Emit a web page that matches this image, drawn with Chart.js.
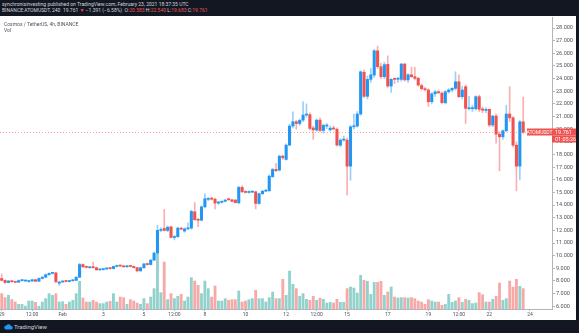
<!DOCTYPE html>
<html>
<head>
<meta charset="utf-8">
<script src="https://cdn.jsdelivr.net/npm/chart.js@4.4.0/dist/chart.umd.min.js"></script>
<style>
html, body { margin: 0; padding: 0; background: #131722; }
#wrap { position: relative; width: 579px; height: 333px; overflow: hidden; background: #131722; font-family: Roboto, "Noto Sans", sans-serif; }
#head { position: absolute; left: 2px; top: 1px; color: #d1d4dc; font-size: 5px; line-height: 6px; white-space: nowrap; }
#head .r { color: #ef5350; }
#panel { position: absolute; left: 0; top: 16px; width: 576px; height: 304px; background: #fff; }
#title { position: absolute; left: 4px; top: 21px; color: #50535e; font-size: 5px; line-height: 6px; white-space: nowrap; }
#foot { position: absolute; left: 4px; top: 323px; color: #d1d4dc; font-size: 6px; line-height: 8px; white-space: nowrap; }
#foot svg { vertical-align: middle; margin-right: 1px; }
</style>
</head>
<body>
<div id="wrap">
  <div id="head">
    <div>synchronisinvesting published on TradingView.com, February 23, 2021 18:37:35 UTC</div>
    <div>BINANCE:ATOMUSDT, 240&nbsp; 19.761 <span class="r">▼</span> −1.391 (−6.58%)&nbsp; O:<span class="r">20.583</span> H:<span class="r">22.540</span> L:<span class="r">19.683</span> C:<span class="r">19.761</span></div>
  </div>
  <div id="panel"><canvas id="chart" width="576" height="304"></canvas></div>
  <div id="title"><div>Cosmos / TetherUS, 4h, BINANCE</div><div>Vol</div></div>
  <div id="foot"><svg width="9" height="6" viewBox="0 0 18 12"><path d="M4 11 A4 4 0 0 1 5 3 A5 5 0 0 1 14 4 A3.5 3.5 0 0 1 14 11 Z" fill="#2196f3"/></svg>TradingView</div>
</div>
<script>
// 4h candles, BINANCE:ATOMUSDT, from 29 Jan 2021 00:00 UTC
const opens = [
  8.20, 8.05, 7.88, 8.00, 7.94, 7.90, 8.03, 8.00, 7.96, 8.00,
  8.10, 7.98, 8.20, 8.30, 8.50, 8.60, 8.64, 7.82, 7.92, 8.02,
  7.96, 8.02, 8.05, 8.30, 9.30, 9.12, 9.05, 9.10, 9.05, 8.88,
  8.90, 8.95, 9.02, 8.98, 9.15, 9.22, 9.18, 9.12, 9.20, 9.15,
  9.05, 8.80, 9.05, 9.35, 9.30, 9.65, 10.20, 12.00, 12.15, 12.00,
  12.28, 11.44, 11.50, 12.18, 11.95, 12.12, 12.18, 13.47, 12.85, 12.81,
  13.86, 14.45, 14.55, 14.47, 14.16, 14.22, 14.30, 14.45, 14.42, 14.40,
  14.18, 15.40, 15.05, 15.00, 15.02, 15.05, 14.13, 14.90, 15.10, 15.13,
  16.24, 16.82, 16.77, 17.87, 17.61, 18.74, 20.25, 20.59, 20.45, 20.72,
  21.12, 21.15, 20.10, 19.93, 20.72, 19.90, 20.25, 19.95, 20.10, 20.00,
  18.74, 19.14, 19.14, 17.08, 20.19, 20.25, 21.20, 24.50, 22.60, 23.94,
  24.28, 26.20, 24.94, 24.15, 25.13, 23.41, 23.96, 23.95, 23.94, 25.15,
  23.90, 24.30, 24.15, 24.02, 23.45, 23.20, 23.10, 22.17, 22.80, 22.96,
  22.85, 22.09, 22.96, 23.10, 23.23, 23.75, 22.57, 23.36, 21.62, 21.62,
  21.62, 22.57, 21.60, 21.48, 21.57, 20.33, 21.04, 19.61, 19.40, 19.88,
  21.20, 20.90, 18.74, 17.08, 20.583
];
const highs = [
  8.55, 8.10, 8.05, 8.05, 7.98, 8.08, 8.10, 8.08, 8.02, 8.15,
  8.14, 8.25, 8.35, 8.55, 8.65, 8.70, 8.68, 7.98, 8.02, 8.06,
  8.05, 8.10, 8.35, 9.40, 9.35, 9.18, 9.12, 9.50, 9.10, 8.95,
  8.98, 9.05, 9.06, 9.18, 9.26, 9.28, 9.22, 9.24, 9.24, 9.18,
  9.08, 9.08, 9.40, 9.42, 9.70, 10.30, 12.40, 12.20, 13.66, 12.35,
  12.35, 11.60, 12.25, 12.25, 12.20, 12.60, 13.60, 14.20, 12.95, 13.95,
  14.90, 14.60, 14.62, 14.55, 14.30, 14.35, 14.45, 14.55, 14.48, 14.45,
  15.50, 15.55, 15.15, 15.12, 15.15, 15.10, 14.95, 15.15, 15.25, 16.40,
  16.90, 17.30, 17.95, 17.95, 18.85, 20.40, 21.38, 20.70, 20.80, 22.17,
  22.00, 21.30, 20.25, 20.80, 20.90, 20.40, 20.45, 20.25, 20.25, 20.10,
  19.25, 19.45, 19.30, 20.30, 21.20, 21.40, 24.60, 24.70, 24.20, 24.80,
  26.30, 26.58, 25.20, 25.30, 25.80, 24.00, 24.05, 24.10, 25.20, 25.20,
  24.40, 24.90, 24.90, 24.10, 23.60, 23.30, 23.20, 22.90, 23.05, 23.10,
  22.95, 23.05, 23.20, 23.30, 24.54, 24.30, 23.40, 23.50, 22.60, 21.90,
  22.65, 22.70, 21.75, 21.70, 21.60, 21.10, 21.20, 19.80, 19.95, 21.90,
  23.36, 21.00, 19.00, 20.70, 22.54
];
const lows = [
  8.00, 7.80, 7.85, 7.90, 7.85, 7.88, 7.98, 7.95, 7.90, 7.97,
  7.95, 7.95, 8.15, 8.25, 8.45, 8.55, 7.85, 7.65, 7.88, 7.92,
  7.92, 7.98, 8.02, 8.25, 9.05, 9.02, 9.00, 9.02, 8.85, 8.84,
  8.86, 8.92, 8.94, 8.95, 9.10, 9.14, 9.08, 9.08, 9.12, 9.02,
  8.72, 8.76, 9.00, 9.25, 9.26, 9.60, 10.15, 11.90, 11.95, 11.90,
  11.40, 11.25, 11.45, 12.05, 11.85, 12.05, 12.10, 12.80, 12.30, 12.75,
  13.80, 14.35, 14.40, 13.70, 14.05, 14.15, 14.25, 14.38, 14.25, 14.15,
  14.10, 15.00, 14.95, 14.95, 14.98, 13.70, 14.05, 14.85, 15.05, 15.10,
  16.20, 16.65, 16.70, 17.60, 17.55, 18.70, 20.10, 20.00, 20.30, 20.60,
  20.95, 19.95, 19.20, 19.85, 19.80, 19.70, 20.05, 19.85, 19.95, 18.65,
  18.60, 19.05, 14.80, 15.97, 20.00, 20.15, 21.10, 22.50, 22.40, 23.70,
  24.10, 24.80, 24.00, 24.00, 23.30, 22.90, 23.60, 23.70, 23.80, 23.80,
  23.70, 24.10, 23.90, 23.40, 23.10, 23.00, 21.80, 22.00, 22.60, 22.80,
  22.00, 22.00, 22.85, 22.95, 23.10, 22.50, 22.40, 20.46, 21.50, 21.40,
  21.50, 21.40, 21.30, 21.30, 20.20, 20.20, 18.90, 16.70, 19.20, 19.80,
  20.60, 18.60, 15.13, 16.00, 19.683
];
const closes = [
  8.05, 7.88, 8.00, 7.94, 7.90, 8.03, 8.06, 8.04, 8.00, 8.10,
  7.98, 8.20, 8.30, 8.50, 8.60, 8.64, 7.95, 7.92, 8.00, 7.96,
  8.02, 8.05, 8.30, 9.30, 9.12, 9.08, 9.10, 9.05, 8.88, 8.92,
  8.95, 9.02, 8.98, 9.15, 9.22, 9.18, 9.12, 9.20, 9.15, 9.05,
  8.80, 9.05, 9.35, 9.30, 9.65, 10.20, 12.00, 12.08, 12.00, 12.25,
  11.44, 11.50, 12.18, 12.10, 12.12, 12.18, 13.50, 12.85, 12.80, 13.86,
  14.50, 14.52, 14.47, 14.16, 14.25, 14.30, 14.40, 14.42, 14.30, 14.20,
  15.40, 15.05, 15.00, 15.05, 15.08, 14.13, 14.90, 15.10, 15.15, 16.29,
  16.82, 16.72, 17.87, 17.75, 18.74, 20.25, 20.59, 20.45, 20.70, 21.12,
  21.20, 20.06, 19.95, 20.72, 19.90, 20.30, 20.30, 20.08, 20.02, 18.74,
  19.14, 19.20, 17.08, 20.19, 20.25, 21.20, 24.54, 22.60, 23.94, 24.30,
  26.20, 24.94, 24.15, 25.10, 23.41, 23.94, 23.94, 23.99, 25.15, 23.90,
  24.30, 24.15, 24.02, 23.49, 23.20, 23.12, 22.17, 22.80, 22.96, 22.88,
  22.10, 22.96, 23.10, 23.23, 23.75, 22.57, 23.10, 21.65, 21.66, 21.66,
  22.57, 21.57, 21.50, 21.55, 20.33, 21.04, 19.61, 19.40, 19.88, 21.20,
  20.90, 18.74, 17.08, 20.58, 19.761
];
const volumes = [
  1570, 1170, 1400, 970, 730, 500, 500, 330, 830, 830,
  700, 300, 730, 1070, 1570, 1400, 1570, 730, 770, 500,
  730, 900, 1570, 2800, 1130, 730, 730, 900, 730, 570,
  570, 730, 800, 1570, 730, 1230, 1170, 500, 970, 830,
  630, 500, 1070, 570, 1230, 2070, 5500, 1670, 4730, 970,
  1570, 1070, 1300, 1500, 830, 1230, 3170, 2830, 2400, 1570,
  2830, 2070, 1230, 2330, 830, 830, 1070, 900, 970, 970,
  1830, 730, 830, 970, 1070, 1900, 1070, 1070, 730, 1170,
  1730, 1070, 1070, 3000, 1400, 3830, 2500, 2070, 1300, 1570,
  1000, 900, 1300, 900, 1130, 1000, 630, 700, 630, 1000,
  700, 700, 2070, 2230, 2130, 1630, 3400, 2900, 2800, 1500,
  2700, 2700, 2800, 1400, 1730, 2230, 1230, 1130, 1170, 1170,
  1130, 1170, 1070, 830, 730, 500, 970, 830, 730, 730,
  400, 500, 1500, 700, 830, 1170, 700, 1000, 900, 570,
  630, 1670, 1470, 730, 730, 1000, 1300, 2630, 900, 1070,
  2830, 2230, 3000, 2300, 2070
];
const yTicks = [6, 7, 8, 9, 10, 11, 12, 13, 14, 15, 16, 17, 18, 19, 20, 21, 22, 23, 24, 25, 26, 27, 28];
const xTickTimes = ['01-29 00:00', '01-30 12:00', '02-01 00:00', '02-03 00:00', '02-05 00:00', '02-06 12:00', '02-08 00:00', '02-10 00:00',
  '02-12 00:00', '02-13 12:00', '02-15 00:00', '02-17 00:00', '02-19 00:00', '02-20 12:00', '02-22 00:00', '02-24 00:00'];
const xTickTexts = ['29', '12:00', 'Feb', '3', '5', '12:00', '8', '10', '12', '12:00', '15', '17', '19', '12:00', '22', '24'];
const lastPrice = 19.761;

// time slots (candles + empty space on the right)
const slots = 163;
const start = Date.UTC(2021, 0, 29, 0);
const pad = n => String(n).padStart(2, '0');
const categories = [];
for (let i = 0; i < slots; i++) {
    const d = new Date(start + i * 4 * 3600 * 1000);
    categories.push(pad(d.getUTCMonth() + 1) + '-' + pad(d.getUTCDate()) + ' ' + pad(d.getUTCHours()) + ':00');
}

const up = i => closes[i] >= opens[i];
const bodies = opens.map((o, i) => [o, closes[i]]);
const wicks = lows.map((l, i) => [l, highs[i]]);
const bodyColors = opens.map((o, i) => up(i) ? '#2196f3' : '#ef5350');
const wickColors = opens.map((o, i) => up(i) ? 'rgba(33,150,243,0.45)' : 'rgba(239,83,80,0.45)');
const volColors = opens.map((o, i) => up(i) ? 'rgba(38,166,154,0.5)' : 'rgba(239,83,80,0.5)');

const priceLine = {
    id: 'priceLine',
    beforeDatasetsDraw(chart) {
        const {ctx, chartArea, scales} = chart;
        const y = Math.round(scales.y.getPixelForValue(lastPrice)) + 0.5;
        ctx.save();
        ctx.strokeStyle = 'rgba(239,83,80,0.55)';
        ctx.lineWidth = 1;
        ctx.setLineDash([1, 2]);
        ctx.beginPath();
        ctx.moveTo(chartArea.left, y);
        ctx.lineTo(chartArea.right, y);
        ctx.stroke();
        ctx.restore();
    },
    afterDraw(chart) {
        const {ctx, chartArea, scales} = chart;
        const y = Math.round(scales.y.getPixelForValue(lastPrice));
        const r = chartArea.right;
        ctx.save();
        ctx.fillStyle = '#ef5350';
        ctx.fillRect(r - 25, y - 3.5, 25, 7);
        ctx.fillRect(r, y - 3.5, 24, 7);
        ctx.fillRect(r, y + 3.5, 24, 7);
        ctx.fillStyle = '#ffffff';
        ctx.font = '5px Roboto';
        ctx.textBaseline = 'middle';
        ctx.textAlign = 'center';
        ctx.fillText('ATOMUSDT', r - 12.5, y + 0.3);
        ctx.textAlign = 'left';
        ctx.font = '5.5px Roboto';
        ctx.fillText('19.761', r + 3, y + 0.3);
        ctx.fillText('01:05:26', r + 3, y + 7.3);
        ctx.restore();
    }
};

new Chart(document.getElementById('chart').getContext('2d'), {
    type: 'bar',
    data: {
        labels: categories,
        datasets: [
            { label: 'Vol', data: volumes, backgroundColor: volColors, yAxisID: 'v', grouped: false,
              barPercentage: 0.84, categoryPercentage: 1, order: 3 },
            { label: 'Wick', data: wicks, backgroundColor: wickColors, yAxisID: 'y', grouped: false,
              barThickness: 1, order: 2 },
            { label: 'ATOMUSDT', data: bodies, backgroundColor: bodyColors, yAxisID: 'y', grouped: false,
              barThickness: 2.4, minBarLength: 1, order: 1 }
        ]
    },
    options: {
        responsive: false,
        animation: false,
        devicePixelRatio: 1,
        layout: { padding: { top: 1, left: 0, right: 0, bottom: 0 } },
        plugins: { legend: { display: false }, tooltip: { enabled: false } },
        scales: {
            x: {
                type: 'category',
                offset: true,
                grid: { display: true, drawOnChartArea: false, offset: false, tickLength: 2, color: '#b2b5be' },
                border: { color: '#b2b5be' },
                afterBuildTicks: s => { s.ticks = xTickTimes.map(t => ({ value: categories.indexOf(t) })); },
                afterFit: s => { s.height = 11; s.paddingLeft = 0; s.paddingRight = 0; },
                ticks: {
                    autoSkip: false, maxRotation: 0, padding: 1,
                    color: '#50535e', font: { family: 'Roboto', size: 5 },
                    callback: (v, i) => xTickTexts[i]
                }
            },
            y: {
                position: 'right',
                min: 5.786,
                max: 28.87,
                grid: { display: true, drawOnChartArea: false, tickLength: 3, color: '#b2b5be' },
                border: { color: '#b2b5be' },
                afterBuildTicks: s => { s.ticks = yTicks.map(v => ({ value: v })); },
                afterFit: s => { s.width = 24; s.paddingTop = 0; s.paddingBottom = 0; },
                ticks: {
                    padding: 1, color: '#50535e', font: { family: 'Roboto', size: 5.5 },
                    callback: v => v.toFixed(3)
                }
            },
            v: { display: false, min: 0, max: 29200 }
        }
    },
    plugins: [priceLine]
});
</script>
</body>
</html>
